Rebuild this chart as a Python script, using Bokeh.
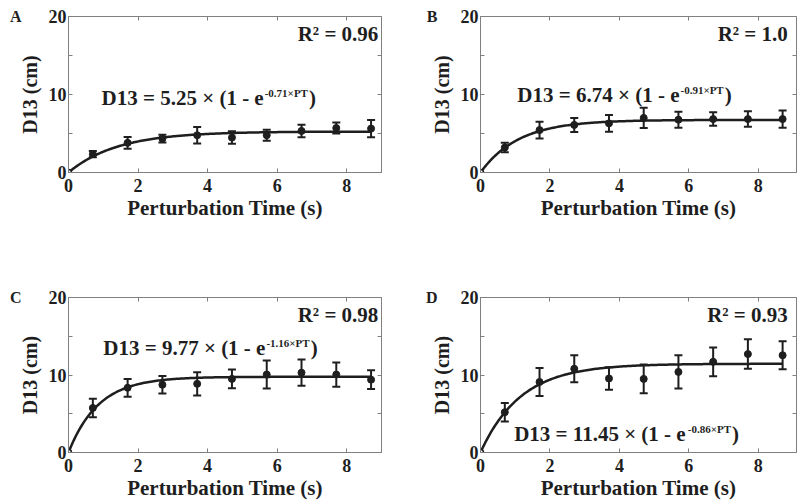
import numpy as np
from bokeh.plotting import figure
from bokeh.layouts import column, row
from bokeh.models import (ColumnDataSource, Whisker, TeeHead, Range1d, FixedTicker,
                          LinearAxis, Label, CustomJSTickFormatter)
from bokeh.embed import file_html
from bokeh.resources import INLINE

# ---------------- data ----------------
T = [0, 0.7, 1.7, 2.7, 3.7, 4.7, 5.7, 6.7, 7.7, 8.7]

MEAN_A = [0, 2.35, 3.8, 4.35, 4.78, 4.48, 4.78, 5.33, 5.7, 5.63]
SD_A   = [0, 0.4, 0.75, 0.5, 1.05, 0.8, 0.7, 0.8, 0.7, 1.1]

MEAN_B = [0, 3.2, 5.44, 6.1, 6.3, 7.0, 6.77, 6.85, 6.85, 6.85]
SD_B   = [0, 0.6, 1.07, 0.9, 1.07, 1.3, 1.03, 0.86, 1.0, 1.1]

MEAN_C = [0, 5.75, 8.35, 8.74, 8.86, 9.5, 10.06, 10.3, 10.06, 9.4]
SD_C   = [0, 1.2, 1.15, 1.13, 1.5, 1.2, 1.8, 1.7, 1.56, 1.2]

MEAN_D = [0, 5.2, 9.1, 10.8, 9.55, 9.5, 10.4, 11.7, 12.7, 12.55]
SD_D   = [0, 1.2, 1.8, 1.75, 1.45, 1.85, 2.15, 1.85, 1.9, 1.8]

PANELS = ["A", "B", "C", "D"]
AMP  = [5.25, 6.74, 9.77, 11.45]
RATE = [0.71, 0.91, 1.16, 0.86]
R2   = ["0.96", "1.0", "0.98", "0.93"]
AMP_TXT = ["5.25", "6.74", "9.77", "11.45"]
RATE_TXT = ["0.71", "0.91", "1.16", "0.86"]

X_TICKS = [0, 2, 4, 6, 8]
Y_TICKS = [0, 10, 20]
Y_MINOR = [5, 15]
X_LABEL = "Perturbation Time (s)"
Y_LABEL = "D13 (cm)"

# ---------------- styling helpers ----------------
FONT = "Liberation Serif"
GRAY = "#808080"
INK = "#1e1e1e"

# Times-Bold widths (per 1000 em)
W = {" ": 250, "(": 333, ")": 333, "-": 333, ".": 250, "=": 570, "×": 570,
     "D": 722, "P": 611, "T": 667, "R": 722, "e": 444, "²": 300}
for d in "0123456789":
    W[d] = 500


def text_width(s, size):
    return sum(W.get(c, 500) for c in s) * size / 1000.0


def style_axis(ax, ticks, minor, labels=True):
    ax.ticker = FixedTicker(ticks=ticks, minor_ticks=minor)
    ax.axis_line_color = GRAY
    ax.major_tick_line_color = GRAY
    ax.minor_tick_line_color = GRAY
    ax.major_tick_in = 4
    ax.major_tick_out = 0
    ax.minor_tick_in = 4
    ax.minor_tick_out = 0
    if labels:
        ax.major_label_text_font = FONT
        ax.major_label_text_font_style = "bold"
        ax.major_label_text_font_size = "18px"
        ax.major_label_text_color = INK
        ax.axis_label_text_font = FONT
        ax.axis_label_text_font_style = "bold"
        ax.axis_label_text_color = INK
    else:
        ax.axis_line_color = None
        ax.formatter = CustomJSTickFormatter(code="return ''")
        ax.major_label_text_font_size = "8px"
        ax.major_label_standoff = 0


def make_panel(i, mean, sd, width, height, bl, br, bt, bb, xmax, eq_pos, r2_pos,
               letter_standoff):
    p = figure(width=width, height=height, output_backend="svg", toolbar_location=None,
               x_range=Range1d(0, xmax), y_range=Range1d(0, 20),
               min_border_left=bl, min_border_right=br, min_border_top=bt,
               min_border_bottom=bb, x_axis_label=X_LABEL, y_axis_label=Y_LABEL)
    p.grid.visible = False
    p.outline_line_color = GRAY
    p.outline_line_width = 1
    p.background_fill_color = "white"
    p.border_fill_color = "white"

    xa = p.xaxis[0]
    ya = p.yaxis[0]
    style_axis(xa, X_TICKS, [])
    style_axis(ya, Y_TICKS, Y_MINOR)
    xa.axis_label_text_font_size = "21px"
    ya.axis_label_text_font_size = "20px"
    xa.major_label_standoff = 6
    xa.axis_label_standoff = 1
    ya.major_label_standoff = 2
    ya.axis_label_standoff = 5

    # panel letter, as the single tick label of an outer left axis at the top
    la = LinearAxis(ticker=FixedTicker(ticks=[20], minor_ticks=[]),
                    major_label_overrides={20: PANELS[i]})
    la.axis_line_color = None
    la.major_tick_line_color = None
    la.minor_tick_line_color = None
    la.major_tick_in = 0
    la.major_tick_out = 0
    la.major_label_standoff = letter_standoff
    la.major_label_text_font = FONT
    la.major_label_text_font_style = "bold"
    la.major_label_text_font_size = "16px"
    la.major_label_text_color = INK
    p.add_layout(la, "left")

    ra = LinearAxis()
    style_axis(ra, Y_TICKS, Y_MINOR, labels=False)
    p.add_layout(ra, "right")
    ta = LinearAxis()
    style_axis(ta, X_TICKS, [], labels=False)
    p.add_layout(ta, "above")

    # fitted curve  D13 = AMP * (1 - exp(-RATE * PT))
    tt = np.linspace(0, T[-1], 200)
    p.line(tt, AMP[i] * (1 - np.exp(-RATE[i] * tt)), line_color=INK, line_width=2.5)

    src = ColumnDataSource(dict(t=T[1:], y=mean[1:],
                                lo=[m - s for m, s in zip(mean[1:], sd[1:])],
                                hi=[m + s for m, s in zip(mean[1:], sd[1:])]))
    wh = Whisker(source=src, base="t", lower="lo", upper="hi", dimension="height",
                 line_color=INK, line_width=2,
                 upper_head=TeeHead(size=8, line_width=2, line_color=INK),
                 lower_head=TeeHead(size=8, line_width=2, line_color=INK))
    p.add_layout(wh)
    p.scatter("t", "y", source=src, size=7, fill_color=INK, line_color=INK)
    p.scatter([T[0]], [mean[0]], size=6, fill_color="white", line_color=INK, line_width=1.5)

    # equation text: main part, superscript, closing parenthesis
    main = f"D13 = {AMP_TXT[i]} × (1 - e"
    sup = f"-{RATE_TXT[i]}×PT"
    ms, ss = 21, 11
    wmain = text_width(main, ms)
    wsup = text_width(sup, ss)
    ex, ey = eq_pos
    common = dict(text_font=FONT, text_font_style="bold", text_color=INK,
                  text_baseline="middle", text_align="left")
    p.add_layout(Label(x=ex, y=ey, text=main, text_font_size=f"{ms}px", **common))
    p.add_layout(Label(x=ex, y=ey, x_offset=wmain + 1, y_offset=5, text=sup,
                       text_font_size=f"{ss}px", **common))
    p.add_layout(Label(x=ex, y=ey, x_offset=wmain + wsup + 2, text=")",
                       text_font_size=f"{ms}px", **common))

    rx, ry = r2_pos
    p.add_layout(Label(x=rx, y=ry, text=f"R² = {R2[i]}", text_font=FONT,
                       text_font_style="bold", text_color=INK, text_font_size="21px",
                       text_baseline="middle", text_align="right"))
    return p


pA = make_panel(0, MEAN_A, SD_A, 400, 280, 68, 19, 16, 108, 9.0,
                (0.95, 9.6), (8.91, 17.75), -6)
pB = make_panel(1, MEAN_B, SD_B, 398, 280, 80, 2, 16, 108, 9.1,
                (1.06, 10.0), (8.85, 17.7), -10)
pC = make_panel(2, MEAN_C, SD_C, 400, 222, 68, 19, 17, 50, 9.0,
                (1.0, 13.5), (8.91, 17.7), -6)
pD = make_panel(3, MEAN_D, SD_D, 398, 222, 80, 2, 17, 50, 9.1,
                (0.97, 2.45), (8.85, 17.7), -10)

layout = column(row(pA, pB), row(pC, pD))

open("out.html", "w").write(file_html(layout, INLINE))
